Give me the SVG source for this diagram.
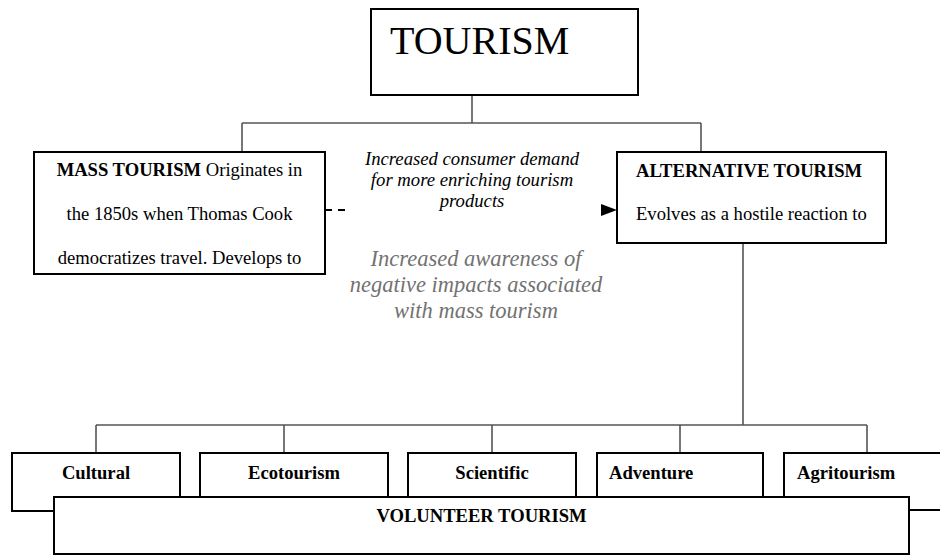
<svg xmlns="http://www.w3.org/2000/svg" width="940" height="555" viewBox="0 0 940 555">
  <style>
    .box { fill: #fff; stroke: #000; stroke-width: 2; }
    .link { fill: none; stroke: #555; stroke-width: 1.6; }
    .t { font-family: "Liberation Serif", "Times New Roman", serif; fill: #000; font-size: 18.6px; }
    .b { font-weight: bold; }
    .note { font-family: "Liberation Serif", "Times New Roman", serif; font-style: italic; text-anchor: middle; }
  </style>
  <defs>
    <marker id="head" markerWidth="16" markerHeight="12" refX="16" refY="6" orient="auto" markerUnits="userSpaceOnUse">
      <path d="M0,0 L16,6 L0,12 Z" fill="#000"/>
    </marker>
  </defs>

  <g id="connectors">
    <!-- root to the two main branches -->
    <path class="link" d="M472,95 V123 M242,123 H701 M242,123 V152 M701,123 V152"/>
    <!-- alternative tourism to its five forms -->
    <path class="link" d="M743,243 V425 M96,425 H867 M96,425 V453 M284,425 V453 M492,425 V453 M680,425 V453 M867,425 V453"/>
    <!-- mass to alternative, dashed start and arrowhead -->
    <path d="M325,210 H332 M338,210 H345" stroke="#000" stroke-width="2" fill="none"/>
    <path d="M600,210 H617" stroke="none" fill="none" marker-end="url(#head)"/>
  </g>

  <g id="tourism">
    <rect class="box" x="371" y="9" width="267" height="86"/>
    <text class="t" x="390" y="54" style="font-size:40px">TOURISM</text>
  </g>

  <g id="mass-tourism">
    <rect class="box" x="34" y="152" width="291" height="122"/>
    <text class="t" x="179.5" y="176" text-anchor="middle"><tspan class="b">MASS TOURISM</tspan> Originates in</text>
    <text class="t" x="179.5" y="220" text-anchor="middle">the 1850s when Thomas Cook</text>
    <text class="t" x="179.5" y="264" text-anchor="middle">democratizes travel. Develops to</text>
  </g>

  <g id="alternative-tourism">
    <rect class="box" x="617" y="152" width="269" height="91"/>
    <text class="t b" x="636" y="177">ALTERNATIVE TOURISM</text>
    <text class="t" x="636" y="220">Evolves as a hostile reaction to</text>
  </g>

  <g id="demand-note">
    <text class="note" x="472" y="165" font-size="18.7" fill="#000">Increased consumer demand</text>
    <text class="note" x="472" y="186" font-size="18.7" fill="#000">for more enriching tourism</text>
    <text class="note" x="472" y="207" font-size="18.7" fill="#000">products</text>
  </g>

  <g id="awareness-note">
    <text class="note" x="476" y="266" font-size="22.5" fill="#727272">Increased awareness of</text>
    <text class="note" x="476" y="292" font-size="22.5" fill="#727272">negative impacts associated</text>
    <text class="note" x="476" y="318" font-size="22.5" fill="#727272">with mass tourism</text>
  </g>

  <g id="cultural">
    <rect class="box" x="12" y="453" width="168" height="58"/>
    <text class="t b" x="96" y="479" text-anchor="middle">Cultural</text>
  </g>
  <g id="ecotourism">
    <rect class="box" x="200" y="453" width="188" height="58"/>
    <text class="t b" x="294" y="479" text-anchor="middle">Ecotourism</text>
  </g>
  <g id="scientific">
    <rect class="box" x="408" y="453" width="168" height="58"/>
    <text class="t b" x="492" y="479" text-anchor="middle">Scientific</text>
  </g>
  <g id="adventure">
    <rect class="box" x="597" y="453" width="166" height="58"/>
    <text class="t b" x="609" y="479">Adventure</text>
  </g>
  <g id="agritourism">
    <rect class="box" x="784" y="453" width="170" height="57"/>
    <text class="t b" x="797" y="479">Agritourism</text>
  </g>

  <g id="volunteer-tourism">
    <rect class="box" x="54" y="497" width="855" height="57"/>
    <text class="t b" x="481.5" y="522" text-anchor="middle">VOLUNTEER TOURISM</text>
  </g>
</svg>
